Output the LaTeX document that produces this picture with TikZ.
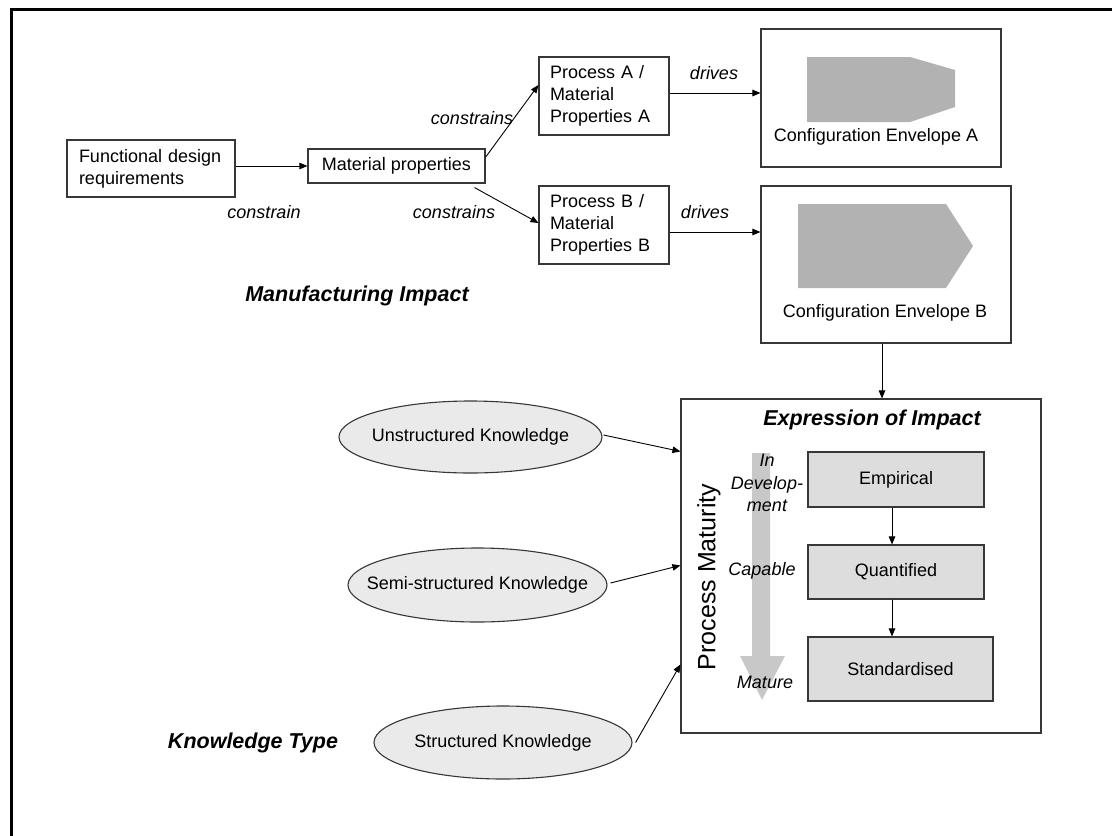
\documentclass[tikz,border=0pt]{standalone}
\usepackage{fontspec}
\setmainfont{Liberation Sans}
\usetikzlibrary{arrows.meta,calc,shapes.geometric}

\definecolor{boxline}{RGB}{55,55,55}
\definecolor{envgray}{RGB}{178,178,178}
\definecolor{stagefill}{RGB}{221,221,221}
\definecolor{ellfill}{RGB}{234,234,234}
\definecolor{maturity}{RGB}{200,200,200}

\begin{document}
\begin{tikzpicture}[x=1pt,y=-1pt,
  every node/.style={font=\fontsize{18}{22}\selectfont, inner sep=0pt},
  box/.style={draw=boxline, line width=1.1pt, rectangle},
  stage/.style={box, fill=stagefill},
  know/.style={draw=boxline, line width=1.1pt, fill=ellfill, ellipse},
  lbl/.style={font=\fontsize{18}{22.5}\selectfont\itshape},
  heading/.style={font=\fontsize{21.5}{26}\selectfont\bfseries\itshape},
  arr/.style={draw=black, line width=0.9pt, -{Triangle[length=8pt,width=6.5pt]}}
]
\useasboundingbox (0,0) rectangle (1112,836);

% outer frame
\draw[line width=3pt] (11,836) -- (11,9) -- (1112,9);

% manufacturing chain
\node[box, minimum width=168pt, minimum height=57pt, text width=144pt,
      inner xsep=12pt, align=left] (fdr) at (151,168.5)
      {Functional design\\requirements};
\node[box, minimum width=177pt, minimum height=34pt] (mp) at (396.5,166)
      {Material properties};
\node[box, minimum width=130pt, minimum height=78pt, text width=108pt,
      inner xsep=11pt, align=left] (pa) at (604,96)
      {Process A /\\Material\\Properties A};
\node[box, minimum width=130pt, minimum height=78pt, text width=108pt,
      inner xsep=11pt, align=left] (pb) at (604,225)
      {Process B /\\Material\\Properties B};

% configuration envelopes
\node[box, minimum width=240pt, minimum height=138pt] (ca) at (881,98) {};
\fill[envgray] (807,57) -- (910,57) -- (955,70) -- (955,107) -- (910,122)
      -- (807,122) -- cycle;
\node (calbl) at (876,137) {Configuration Envelope A};

\node[box, minimum width=250pt, minimum height=157pt] (cb) at (886,264.5) {};
\fill[envgray] (798,204) -- (946,204) -- (973,246) -- (946,288) -- (798,288)
      -- cycle;
\node (cblbl) at (885,313) {Configuration Envelope B};

\node[lbl] (lcon) at (264,212) {constrain};
\node[lbl] (lcsa) at (472,118) {constrains};
\node[lbl] (lcsb) at (454,212) {constrains};
\node[lbl] (ldra) at (714,73) {drives};
\node[lbl] (ldrb) at (705,212) {drives};
\node[heading] (mfg) at (357,296) {Manufacturing Impact};

% connector end points
\coordinate (mpA) at ($(mp.east)!0.5!(mp.north east)$);
\coordinate (paIn) at ($(pa.west)+(0,-11)$);
\coordinate (mpB) at ($(mp.south east)+(-11,4)$);
\coordinate (pbIn) at ($(pb.west)+(0,-2)$);
\coordinate (paOut) at ($(pa.east)+(0,-3)$);
\coordinate (pbOut) at ($(pb.east)+(0,7)$);
\coordinate (cbOut) at ($(cb.south)+(-4,0)$);

\draw[arr] (fdr.east |- mp.west) -- (mp.west);
\draw[arr] (mpA) -- (paIn);
\draw[arr] (mpB) -- (pbIn);
\draw[arr] (paOut) -- (paOut -| ca.west);
\draw[arr] (pbOut) -- (pbOut -| cb.west);

% expression of impact
\node[box, minimum width=360pt, minimum height=334pt] (ex) at (861,566) {};
\draw[arr] (cbOut) -- (cbOut |- ex.north);
\node[heading] (exh) at (872,420) {Expression of Impact};

\fill[maturity] (752,453) -- (770,453) -- (770,656) -- (785,656) -- (762,700)
      -- (740,656) -- (752,656) -- cycle;
\node[font=\fontsize{25}{30}\selectfont, rotate=90] (pm) at (709,577)
      {Process Maturity};
\node[lbl, align=center] (indev) at (767,483) {In\\Develop-\\ment};
\node[lbl] (capable) at (762,571) {Capable};
\node[lbl] (mature) at (765,682) {Mature};

\node[stage, minimum width=176pt, minimum height=55pt] (emp) at (896,479.5)
      {Empirical};
\node[stage, minimum width=176pt, minimum height=54pt] (qua) at (896,572)
      {Quantified};
\node[stage, minimum width=185pt, minimum height=64pt] (std) at (900.5,669)
      {Standardised};
\coordinate (empOut) at ($(emp.south)+(-4,0)$);
\coordinate (quaOut) at ($(qua.south)+(-4,0)$);
\draw[arr] (empOut) -- (empOut |- qua.north);
\draw[arr] (quaOut) -- (quaOut |- std.north);

% knowledge types
\node[know, minimum width=263pt, minimum height=72pt] (unk) at (470.5,437)
      {\makebox[0pt]{Unstructured Knowledge}};
\node[know, minimum width=259pt, minimum height=74pt] (semk) at (477.5,585)
      {\makebox[0pt]{Semi-structured Knowledge}};
\node[know, minimum width=258pt, minimum height=73pt] (strk) at (503,742.5)
      {\makebox[0pt]{Structured Knowledge}};
\node[heading] (kt) at (253,743) {Knowledge Type};

\coordinate (exU) at ($(ex.north west)+(0,53)$);
\coordinate (exS) at ($(ex.north west)+(0,167)$);
\coordinate (exT) at ($(ex.north west)+(0,266)$);
\draw[arr] ($(unk.east)+(1,-2)$) -- (exU);
\draw[arr] ($(semk.east)+(3,-2)$) -- (exS);
\draw[arr] ($(strk.east)+(3,0)$) -- (exT);
\end{tikzpicture}
\end{document}
